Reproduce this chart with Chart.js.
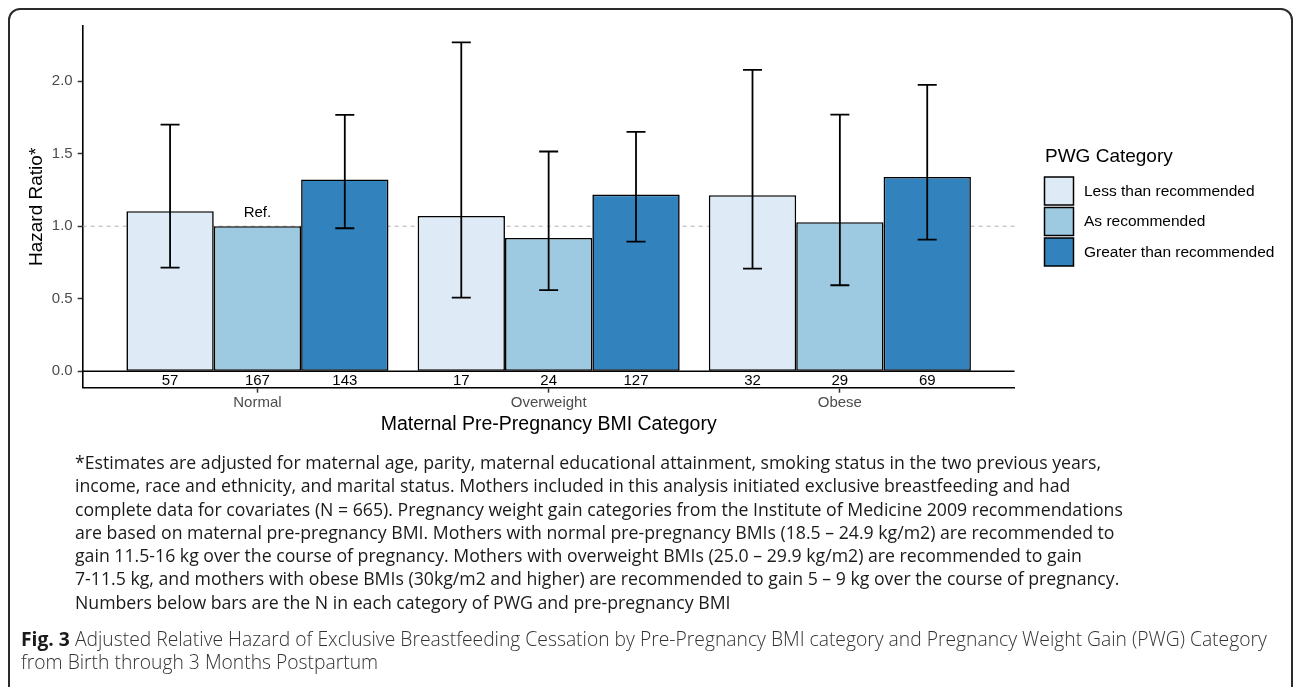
<!DOCTYPE html>
<html>
<head>
<meta charset="utf-8">
<script src="https://cdn.jsdelivr.net/npm/chart.js"></script>
<style>
  html, body { margin: 0; padding: 0; background: #fff; width: 1295px; height: 687px; overflow: hidden; }
  #frame { position: absolute; left: 8px; top: 8px; width: 1285px; height: 720px; box-sizing: border-box;
           border: 2px solid #2b2b2b; border-radius: 12px; }
  #chartBox { position: absolute; left: 0; top: 0; width: 1295px; height: 450px; }
  #notes { position: absolute; left: 75px; top: 451px; font-family: 'Open Sans', Lato, sans-serif;
           font-size: 17.7px; line-height: 23.3px; color: #1a1a1a; white-space: nowrap; }
  #caption { position: absolute; left: 21px; top: 627px; font-family: 'Open Sans', Lato, sans-serif;
             font-size: 19.3px; line-height: 23px; color: #333; font-weight: 300; white-space: nowrap; }
  #caption b { font-weight: 700; color: #1a1a1a; }
</style>
</head>
<body>
<div id="chartBox"><canvas id="pwgChart"></canvas></div>
<div id="frame"></div>
<div id="notes">
  <div>*Estimates are adjusted for maternal age, parity, maternal educational attainment, smoking status in the two previous years,</div>
  <div>income, race and ethnicity, and marital status. Mothers included in this analysis initiated exclusive breastfeeding and had</div>
  <div>complete data for covariates (N = 665). Pregnancy weight gain categories from the Institute of Medicine 2009 recommendations</div>
  <div>are based on maternal pre-pregnancy BMI. Mothers with normal pre-pregnancy BMIs (18.5 – 24.9 kg/m2) are recommended to</div>
  <div>gain 11.5-16 kg over the course of pregnancy. Mothers with overweight BMIs (25.0 – 29.9 kg/m2) are recommended to gain</div>
  <div>7-11.5 kg, and mothers with obese BMIs (30kg/m2 and higher) are recommended to gain 5 – 9 kg over the course of pregnancy.</div>
  <div>Numbers below bars are the N in each category of PWG and pre-pregnancy BMI</div>
</div>
<div id="caption">
  <div><b>Fig. 3</b> Adjusted Relative Hazard of Exclusive Breastfeeding Cessation by Pre-Pregnancy BMI category and Pregnancy Weight Gain (PWG) Category</div>
  <div>from Birth through 3 Months Postpartum</div>
</div>
<script>
// chart data
const bmiCategories = ['Normal', 'Overweight', 'Obese'];
const pwgCategories = ['Less than recommended', 'As recommended', 'Greater than recommended'];
const pwgColors = ['#DEEBF7', '#9ECAE1', '#3182BD'];

const hazardLess = [1.103, 1.071, 1.214];
const hazardAs = [1.0, 0.919, 1.028];
const hazardGreater = [1.322, 1.218, 1.340];

const lowerLess = [0.715, 0.508, 0.708];
const upperLess = [1.701, 2.267, 2.078];
const lowerAs = [null, 0.559, 0.593];
const upperAs = [null, 1.515, 1.770];
const lowerGreater = [0.986, 0.894, 0.908];
const upperGreater = [1.768, 1.651, 1.975];

const nLess = [57, 17, 32];
const nAs = [167, 24, 29];
const nGreater = [143, 127, 69];

const refLabels = [['', '', ''], ['Ref.', '', ''], ['', '', '']];
const yTicks = [0, 0.5, 1.0, 1.5, 2.0];
const refLine = 1.0;

document.addEventListener("DOMContentLoaded", function () {
    const ctx = document.getElementById("pwgChart");
    Chart.defaults.font.family = "'Liberation Sans', Arial, sans-serif";

    const hazards = [hazardLess, hazardAs, hazardGreater];
    const lowers = [lowerLess, lowerAs, lowerGreater];
    const uppers = [upperLess, upperAs, upperGreater];
    const counts = [nLess, nAs, nGreater];

    // ggplot-like expansion of the y range
    const allUpper = upperLess.concat(upperAs, upperGreater).filter(v => v !== null);
    const yTop = Math.max(...allUpper);
    const yPad = yTop * 0.05;

    const overlayPlugin = {
        id: 'overlay',
        beforeDatasetsDraw(chart) {
            const { ctx, chartArea, scales } = chart;
            const y = scales.y.getPixelForValue(refLine);
            ctx.save();
            ctx.strokeStyle = '#b3b3b3';
            ctx.lineWidth = 1;
            ctx.setLineDash([4, 4]);
            ctx.beginPath();
            ctx.moveTo(chartArea.left, y);
            ctx.lineTo(chartArea.right, y);
            ctx.stroke();
            ctx.restore();
        },
        afterDatasetsDraw(chart) {
            const { ctx, chartArea, scales } = chart;
            const y0 = scales.y.getPixelForValue(0);
            ctx.save();
            // zero line
            ctx.strokeStyle = '#000';
            ctx.lineWidth = 1.6;
            ctx.beginPath();
            ctx.moveTo(chartArea.left, y0);
            ctx.lineTo(chartArea.right, y0);
            ctx.stroke();

            chart.data.datasets.forEach((ds, di) => {
                const meta = chart.getDatasetMeta(di);
                meta.data.forEach((bar, i) => {
                    const lo = lowers[di][i];
                    const hi = uppers[di][i];
                    if (lo !== null && hi !== null) {
                        const yl = scales.y.getPixelForValue(lo);
                        const yh = scales.y.getPixelForValue(hi);
                        const half = 9.5;
                        ctx.strokeStyle = '#000';
                        ctx.lineWidth = 1.8;
                        ctx.beginPath();
                        ctx.moveTo(bar.x, yl); ctx.lineTo(bar.x, yh);
                        ctx.moveTo(bar.x - half, yl); ctx.lineTo(bar.x + half, yl);
                        ctx.moveTo(bar.x - half, yh); ctx.lineTo(bar.x + half, yh);
                        ctx.stroke();
                    }
                    ctx.fillStyle = '#000';
                    ctx.font = "15px 'Liberation Sans', Arial, sans-serif";
                    ctx.textAlign = 'center';
                    ctx.textBaseline = 'middle';
                    ctx.fillText(String(counts[di][i]), bar.x, (y0 + chartArea.bottom) / 2 + 1);
                    const note = refLabels[di][i];
                    if (note) ctx.fillText(note, bar.x, bar.y - 13);
                });
            });
            ctx.restore();
        },
        afterDraw(chart) {
            const { ctx } = chart;
            ctx.save();
            ctx.fillStyle = '#000';
            ctx.textAlign = 'left';
            ctx.textBaseline = 'middle';
            ctx.font = "19px 'Liberation Sans', Arial, sans-serif";
            ctx.fillText('PWG Category', 1045, 157);
            ctx.font = "15.5px 'Liberation Sans', Arial, sans-serif";
            chart.data.datasets.forEach((ds, i) => {
                const top = 177 + i * 30.5;
                ctx.fillStyle = ds.backgroundColor;
                ctx.fillRect(1044.5, top, 29, 28);
                ctx.strokeStyle = '#000';
                ctx.lineWidth = 1.5;
                ctx.strokeRect(1044.5, top, 29, 28);
                ctx.fillStyle = '#000';
                ctx.fillText(ds.label, 1084, top + 14.5);
            });
            ctx.restore();
        }
    };

    new Chart(ctx, {
        type: 'bar',
        data: {
            datasets: pwgCategories.map((label, di) => ({
                label: label,
                data: hazards[di].map((v, i) => ({ x: i, y: v })),
                backgroundColor: pwgColors[di],
                borderColor: '#000',
                borderWidth: 1.6,
                borderSkipped: false,
                categoryPercentage: 0.9,
                barPercentage: 1.0
            }))
        },
        options: {
            responsive: true,
            maintainAspectRatio: false,
            animation: false,
            layout: { padding: { left: 0, top: 26, right: 280.4, bottom: 0 } },
            plugins: {
                legend: { display: false },
                tooltip: { enabled: false }
            },
            scales: {
                x: {
                    type: 'linear',
                    min: -0.6,
                    max: 2.6,
                    offset: false,
                    afterBuildTicks: (scale) => { scale.ticks = bmiCategories.map((c, i) => ({ value: i })); },
                    afterFit: (scale) => { scale.height = 62.3; },
                    grid: { display: true, offset: false, drawOnChartArea: false, drawTicks: true, tickLength: 5, tickColor: '#333', tickWidth: 1.5 },
                    border: { display: true, color: '#000', width: 1.6 },
                    ticks: {
                        padding: 1,
                        color: '#4d4d4d',
                        font: { size: 15 },
                        callback: (v) => bmiCategories[v]
                    },
                    title: {
                        display: true,
                        text: 'Maternal Pre-Pregnancy BMI Category',
                        color: '#000',
                        font: { size: 19.5 },
                        padding: { top: 0, bottom: 13.4 }
                    }
                },
                y: {
                    min: -yPad,
                    max: yTop + yPad,
                    afterBuildTicks: (scale) => { scale.ticks = yTicks.map(v => ({ value: v })); },
                    afterFit: (scale) => { scale.width = 82.7; },
                    grid: { display: true, drawOnChartArea: false, drawTicks: true, tickLength: 5, tickColor: '#333', tickWidth: 1.5 },
                    border: { display: true, color: '#000', width: 1.6 },
                    ticks: {
                        padding: 5,
                        color: '#4d4d4d',
                        font: { size: 15 },
                        callback: (v) => Number(v).toFixed(1)
                    },
                    title: {
                        display: true,
                        text: 'Hazard Ratio*',
                        color: '#000',
                        font: { size: 19 },
                        padding: { top: 25.3, bottom: 0 }
                    }
                }
            }
        },
        plugins: [overlayPlugin]
    });
});
</script>
</body>
</html>
